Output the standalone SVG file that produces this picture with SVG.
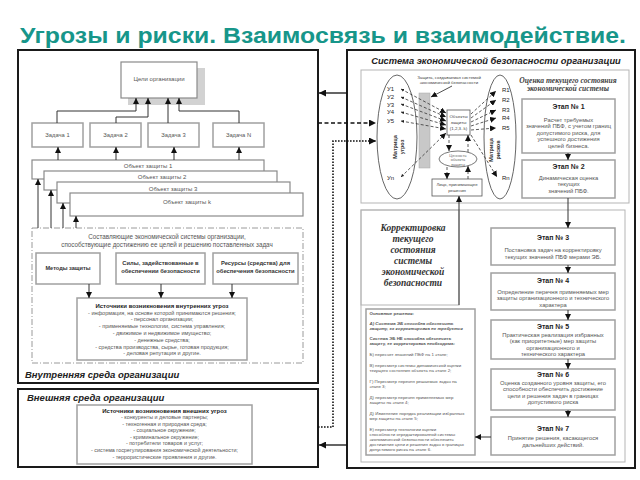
<svg xmlns="http://www.w3.org/2000/svg" width="640" height="480" viewBox="0 0 640 480">
<defs>
<marker id="ah" viewBox="0 0 10 10" refX="10" refY="5" markerWidth="6" markerHeight="6" markerUnits="userSpaceOnUse" orient="auto"><path d="M0,0 L10,5 L0,10 z" fill="#111"/></marker>
<marker id="ahb" viewBox="0 0 10 10" refX="10" refY="5" markerWidth="8" markerHeight="7" markerUnits="userSpaceOnUse" orient="auto"><path d="M0,0 L10,5 L0,10 z" fill="#111"/></marker>
<marker id="ahs" viewBox="0 0 10 10" refX="0" refY="5" markerWidth="3" markerHeight="3" markerUnits="userSpaceOnUse" orient="auto"><path d="M10,0 L0,5 L10,10 z" fill="#222"/></marker>
</defs>
<style>
.sf{font-family:"Liberation Sans",Arial,sans-serif}
.sr{font-family:"Liberation Serif","Times New Roman",serif}
.g{fill:#555}
.d{fill:#222}
.c{text-anchor:middle}
.b{font-weight:bold}
.i{font-style:italic}
.frame{fill:none;stroke:#1a1a1a;stroke-width:2}
.box{fill:#fff;stroke:#8a8a8a;stroke-width:1.2}
.gbox{fill:#fff;stroke:#a0a0a0;stroke-width:1.5}
.pan{fill:none;stroke:#b5b5b5;stroke-width:1}
.ln{fill:none;stroke:#333;stroke-width:1}
.dl{fill:none;stroke:#333;stroke-width:0.8;stroke-dasharray:3 2}
</style>
<rect width="640" height="480" fill="#fff"/>
<text class="sf b" x="20" y="43" font-size="22" fill="#17968a" textLength="606" lengthAdjust="spacingAndGlyphs">Угрозы и риски. Взаимосвязь и взаимодействие.</text>

<!-- LEFT: internal environment -->
<g id="internal-env">
<rect class="frame" x="18" y="50" width="300" height="333"/>
<text class="sf b i d" x="25" y="378" font-size="9.5">Внутренняя среда организации</text>
</g>
<g id="goals">
<rect x="128" y="68" width="77" height="37" fill="#d2d2d2"/>
<rect class="box" x="121" y="62" width="76" height="36"/>
<text class="sf g c" x="159" y="81" font-size="6">Цели организации</text>
</g>
<g id="task1"><rect class="gbox" x="32" y="123" width="51" height="24"/><text class="sf g c" x="57.5" y="137" font-size="5.8">Задача 1</text></g>
<g id="task2"><rect class="gbox" x="90" y="123" width="51" height="24"/><text class="sf g c" x="115.5" y="137" font-size="5.8">Задача 2</text></g>
<g id="task3"><rect class="gbox" x="148" y="123" width="51" height="24"/><text class="sf g c" x="173.5" y="137" font-size="5.8">Задача 3</text></g>
<g id="taskN"><rect class="gbox" x="213" y="123" width="51" height="24"/><text class="sf g c" x="238.5" y="137" font-size="5.8">Задача N</text></g>
<g id="obj1"><rect class="box" x="32" y="160" width="232" height="19"/><text class="sf g c" x="148" y="168" font-size="6">Объект защиты 1</text></g>
<g id="obj2"><rect class="box" x="44" y="171" width="233" height="19"/><text class="sf g c" x="162" y="179" font-size="6">Объект защиты 2</text></g>
<g id="obj3"><rect class="box" x="57" y="182" width="233" height="21"/><text class="sf g c" x="173" y="191" font-size="6">Объект защиты 3</text></g>
<g id="objk"><rect class="box" x="70" y="193" width="233" height="23"/><text class="sf g c" x="187" y="204" font-size="6">Объект защиты k</text></g>
<g id="components">
<rect x="32" y="228" width="271" height="135" fill="none" stroke="#9a9a9a" stroke-width="1" stroke-dasharray="6 2 1 2"/>
<text class="sf g c" x="167" y="239" font-size="6.3">Составляющие экономической системы организации,</text>
<text class="sf g c" x="167" y="247" font-size="6.3">способствующие достижению ее целей и решению поставленных задач</text>
</g>
<g id="methods"><rect class="gbox" x="36" y="253" width="64" height="31"/><text class="sf b c" fill="#333" x="68" y="270" font-size="5.6">Методы защиты</text></g>
<g id="forces"><rect class="gbox" x="116" y="253" width="89" height="31"/><text class="sf b c" fill="#333" x="160.5" y="265" font-size="5.8">Силы, задействованные в</text><text class="sf b c" fill="#333" x="160.5" y="272.5" font-size="5.8">обеспечении безопасности</text></g>
<g id="resources"><rect class="gbox" x="213" y="253" width="85" height="31"/><text class="sf b c" fill="#333" x="255.5" y="265" font-size="5.8">Ресурсы (средства) для</text><text class="sf b c" fill="#333" x="255.5" y="272.5" font-size="5.8">обеспечения безопасности</text></g>
<g id="internal-threats">
<rect class="gbox" x="77" y="298" width="170" height="62"/>
<text class="sf b c d" x="162" y="307.5" font-size="6">Источники возникновения внутренних угроз</text>
<g class="sf g c" font-size="5.5">
<text x="162" y="314.5">- информация, на основе  которой принимаются решения;</text>
<text x="162" y="321.3">- персонал организации;</text>
<text x="162" y="328.1">- применяемые технологии, система управления;</text>
<text x="162" y="334.9">- движимое и недвижимое имущество;</text>
<text x="162" y="341.7">- денежные средства;</text>
<text x="162" y="348.5">- средства производства, сырье, готовая продукция;</text>
<text x="162" y="355.3">- деловая репутация и другие.</text>
</g>
</g>

<!-- LEFT: external environment -->
<g id="external-env">
<rect class="frame" x="18" y="389" width="300" height="78"/>
<text class="sf b i d" x="27" y="401" font-size="9.5">Внешняя среда организации</text>
</g>
<g id="external-threats">
<rect class="gbox" x="77" y="405" width="175" height="59"/>
<text class="sf b c d" x="164.5" y="412.5" font-size="6">Источники возникновения  внешних угроз</text>
<g class="sf g c" font-size="5.4">
<text x="164.5" y="419">- конкуренты и деловые партнеры;</text>
<text x="164.5" y="425.6">- техногенная и природная среда;</text>
<text x="164.5" y="432.2">- социальное окружение;</text>
<text x="164.5" y="438.8">- криминальное окружение;</text>
<text x="164.5" y="445.4">- потребители товаров и услуг;</text>
<text x="164.5" y="452">- система госрегулирования экономической деятельности;</text>
<text x="164.5" y="458.6">- террористические проявления и другие.</text>
</g>
</g>

<!-- RIGHT: economic security system -->
<g id="ses">
<rect class="frame" x="347" y="50" width="288" height="418"/>
<text class="sf b i d c" x="496" y="64" font-size="9.3">Система экономической безопасности организации</text>
<rect class="pan" x="361" y="70" width="268" height="133"/>
<rect class="pan" x="361" y="210" width="264" height="252"/>
</g>
<g id="threat-matrix">
<ellipse cx="397" cy="137" rx="20" ry="62" fill="none" stroke="#555" stroke-width="0.9"/>
<g class="sf d" font-size="6">
<text x="387" y="91">У1</text><text x="387" y="99">У2</text><text x="387" y="106.5">У3</text><text x="387" y="114">У4</text><text x="387" y="123">У5</text><text x="387" y="180">Уn</text>
</g>
<text class="sf b c" fill="#333" font-size="5.5" transform="translate(397,147) rotate(-90)">Матрица</text>
<text class="sf b c" fill="#333" font-size="5.5" transform="translate(404,147) rotate(-90)">угроз</text>
</g>
<g id="shield">
<rect x="419" y="93" width="11" height="75" fill="#c8c8c8" stroke="#a8a8a8" stroke-width="0.5"/>
<text class="sf c" fill="#444" x="449" y="78.5" font-size="4.3">Защита, создаваемая системой</text>
<text class="sf c" fill="#444" x="449" y="83.5" font-size="4.3">экономической безопасности</text>
</g>
<g id="objects">
<rect x="447" y="110" width="23" height="25" fill="#fff" stroke="#555" stroke-width="0.8"/>
<g class="sf c" fill="#444" font-size="4.4"><text x="458.5" y="118">Объекты</text><text x="458.5" y="124">защиты</text><text x="458.5" y="130">(1,2,3..k)</text></g>
</g>
<g id="value">
<ellipse cx="458" cy="159" rx="19" ry="8" fill="#fff" stroke="#555" stroke-width="0.8"/>
<g class="sf c" fill="#666" font-size="3.9"><text x="458" y="156.5">Ценность</text><text x="458" y="161">объекта</text><text x="458" y="165.5">защиты</text></g>
</g>
<g id="decision-maker">
<rect x="432" y="179" width="50" height="17" fill="#fff" stroke="#555" stroke-width="0.8"/>
<g class="sf c" fill="#444" font-size="4.3"><text x="457" y="186">Лицо, принимающее</text><text x="457" y="192">решения</text></g>
</g>
<g id="risk-matrix">
<ellipse cx="500" cy="137" rx="16" ry="62" fill="none" stroke="#555" stroke-width="0.9"/>
<g class="sf d" font-size="6">
<text x="502" y="92">R1</text><text x="502" y="102">R2</text><text x="502" y="112">R3</text><text x="502" y="120">R4</text><text x="502" y="130">R5</text><text x="502" y="180">Rn</text>
</g>
<text class="sf b c" fill="#333" font-size="5.5" transform="translate(493,150) rotate(-90)">Матрица</text>
<text class="sf b c" fill="#333" font-size="5.5" transform="translate(500,150) rotate(-90)">рисков</text>
</g>
<g id="assessment-head">
<text class="sr b i c" fill="#444" x="568" y="83" font-size="7.6">Оценка текущего состояния</text>
<text class="sr b i c" fill="#444" x="568" y="91" font-size="7.6">экономической системы</text>
</g>
<g id="stage1">
<rect class="gbox" x="522" y="99" width="93" height="54"/>
<text class="sf b c d" x="568.5" y="109" font-size="7">Этап № 1</text>
<g class="sf g c" font-size="5.8"><text x="568.5" y="121.5">Расчет требуемых</text><text x="568.5" y="128">значений ПБФ, с учетом границ</text><text x="568.5" y="134.5">допустимого риска, для</text><text x="568.5" y="141">успешного достижения</text><text x="568.5" y="147.5">целей бизнеса.</text></g>
</g>
<g id="stage2">
<rect class="gbox" x="522" y="160" width="93" height="38"/>
<text class="sf b c d" x="568.5" y="169" font-size="7">Этап № 2</text>
<g class="sf g c" font-size="5.8"><text x="568.5" y="179.5">Динамическая оценка</text><text x="568.5" y="186">текущих</text><text x="568.5" y="192.5">значений ПБФ.</text></g>
</g>
<g id="correction">
<rect class="pan" x="361" y="210" width="98" height="95"/>
<g class="sr b i c" fill="#333" font-size="9.5"><text x="413" y="231">Корректировка</text><text x="413" y="242">текущего</text><text x="413" y="253">состояния</text><text x="413" y="264">системы</text><text x="413" y="275">экономической</text><text x="413" y="286">безопасности</text></g>
</g>
<g id="decisions">
<rect class="gbox" x="366" y="309" width="109" height="146" stroke-width="1"/>
<g class="sf" fill="#555" font-size="4.4">
<text x="369.5" y="315" class="b">Основные решения:</text>
<text x="369.5" y="325" class="b i">А) Система ЭБ способна обеспечить</text>
<text x="369.5" y="330" class="b i">защиту, ее корректировка не требуется</text>
<text x="369.5" y="340" class="b">Система ЭБ НЕ способна обеспечить</text>
<text x="369.5" y="345" class="b">защиту, ее корректировка необходима:</text>
<text x="369.5" y="356">Б) пересчет значений ПБФ на 1 этапе;</text>
<text x="369.5" y="367">В) пересмотр системы динамической оценки</text>
<text x="369.5" y="372">текущего состояния  объекта на этапе 2;</text>
<text x="369.5" y="383">Г) Пересмотр перечня решаемых задач на</text>
<text x="369.5" y="388">этапе 3;</text>
<text x="369.5" y="399">Д) пересмотр перечня применяемых мер</text>
<text x="369.5" y="404">защиты на этапе 4;</text>
<text x="369.5" y="415">Д) Изменение порядка реализации избранных</text>
<text x="369.5" y="420">мер защиты на этапе 5;</text>
<text x="369.5" y="431">Е) пересмотр технологии оценки</text>
<text x="369.5" y="436">способности отредактированной системы</text>
<text x="369.5" y="441">экономической безопасности обеспечить</text>
<text x="369.5" y="446">достижение цели и решения задач в границах</text>
<text x="369.5" y="451">допустимого риска на этапе 6.</text>
</g>
</g>
<g id="stage3">
<rect class="gbox" x="491" y="228" width="124" height="37"/>
<text class="sf b c d" x="553" y="240" font-size="7">Этап № 3</text>
<g class="sf g c" font-size="5.8"><text x="553" y="252">Постановка задач на корректировку</text><text x="553" y="259">текущих значений ПБФ мерами ЭБ.</text></g>
</g>
<g id="stage4">
<rect class="gbox" x="491" y="273" width="124" height="37"/>
<text class="sf b c d" x="553" y="282.5" font-size="7">Этап № 4</text>
<g class="sf g c" font-size="5.8"><text x="553" y="293.5">Определение перечня применяемых мер</text><text x="553" y="300">защиты организационного и технического</text><text x="553" y="306.5">характера</text></g>
</g>
<g id="stage5">
<rect class="gbox" x="491" y="320" width="124" height="39"/>
<text class="sf b c d" x="553" y="328.5" font-size="7">Этап № 5</text>
<g class="sf g c" font-size="5.8"><text x="553" y="336.5">Практическая реализация избранных</text><text x="553" y="343">(как приоритетные) мер защиты</text><text x="553" y="349.5">организационного и</text><text x="553" y="356">технического характера</text></g>
</g>
<g id="stage6">
<rect class="gbox" x="491" y="369" width="124" height="41"/>
<text class="sf b c d" x="553" y="376.5" font-size="7">Этап № 6</text>
<g class="sf g c" font-size="5.8"><text x="553" y="384.5">Оценка созданного уровня защиты, его</text><text x="553" y="391">способности обеспечить достижение</text><text x="553" y="397.5">цели и решения задач в границах</text><text x="553" y="404">допустимого риска</text></g>
</g>
<g id="stage7">
<rect class="gbox" x="491" y="417" width="124" height="38"/>
<text class="sf b c d" x="553" y="431" font-size="7">Этап № 7</text>
<g class="sf g c" font-size="5.8"><text x="553" y="440">Принятие решения, касающегося</text><text x="553" y="447">дальнейших действий.</text></g>
</g>

<g id="connectors">
<!-- tasks to goals -->
<path class="ln" d="M57,123 V111 H136 V98" marker-end="url(#ah)"/>
<path class="ln" d="M116,123 V117 H148 V98" marker-end="url(#ah)"/>
<path class="ln" d="M168,123 V98" marker-end="url(#ah)"/>
<path class="ln" d="M239,123 V111 H179 V98" marker-end="url(#ah)"/>
<!-- objects to tasks -->
<path class="ln" d="M58,160 V147" marker-end="url(#ah)"/>
<path class="ln" d="M116,160 V147" marker-end="url(#ah)"/>
<path class="ln" d="M174,160 V147" marker-end="url(#ah)"/>
<path class="ln" d="M239,160 V147" marker-end="url(#ah)"/>
<!-- components to objects -->
<path class="ln" d="M38,228 V179" marker-end="url(#ah)"/>
<path class="ln" d="M51,228 V190" marker-end="url(#ah)"/>
<path class="ln" d="M63,228 V203" marker-end="url(#ah)"/>
<path class="ln" d="M76,228 V216" marker-end="url(#ah)"/>
<!-- boxes to internal threats -->
<path class="ln" d="M89,284 V298" marker-end="url(#ah)"/>
<path class="ln" d="M161,284 V298" marker-end="url(#ah)"/>
<path class="ln" d="M232,284 V298" marker-end="url(#ah)"/>
<!-- between frames -->
<path d="M347,93 H319" fill="none" stroke="#111" stroke-width="1.3" marker-end="url(#ahb)"/>
<path d="M347,445 H319" fill="none" stroke="#111" stroke-width="1.3" marker-end="url(#ahb)"/>
<path d="M318,123 H376" fill="none" stroke="#111" stroke-width="1.3" stroke-dasharray="4 2.5" marker-end="url(#ahb)"/>
<path d="M318,427 H333 V141 H376" fill="none" stroke="#111" stroke-width="1.6" stroke-dasharray="1.6 1.4" marker-end="url(#ahb)"/>
<!-- threats to objects -->
<path class="dl" d="M401,89 L446,113" marker-start="url(#ahs)" marker-end="url(#ah)"/>
<path class="dl" d="M401,97 L446,117" marker-start="url(#ahs)" marker-end="url(#ah)"/>
<path class="dl" d="M401,104 L446,121" marker-start="url(#ahs)" marker-end="url(#ah)"/>
<path class="dl" d="M401,112 L446,125" marker-start="url(#ahs)" marker-end="url(#ah)"/>
<path class="dl" d="M401,121 L446,129" marker-start="url(#ahs)" marker-end="url(#ah)"/>
<path class="dl" d="M401,177 L446,133" marker-start="url(#ahs)" marker-end="url(#ah)"/>
<!-- objects to risks -->
<path class="dl" d="M471,114 L496,91" marker-end="url(#ah)"/>
<path class="dl" d="M471,118 L496,100" marker-end="url(#ah)"/>
<path class="dl" d="M471,122 L496,110" marker-end="url(#ah)"/>
<path class="dl" d="M471,126 L496,118" marker-end="url(#ah)"/>
<path class="dl" d="M471,130 L496,128" marker-end="url(#ah)"/>
<path class="dl" d="M471,135 L497,177" marker-end="url(#ah)"/>
<!-- shield label -->
<path d="M452,86 L431,97" fill="none" stroke="#222" stroke-width="0.8" marker-end="url(#ah)"/>
<!-- objects / value / decision maker -->
<path class="dl" d="M449,135 V151" marker-end="url(#ah)"/>
<path class="dl" d="M468,152 V135" marker-end="url(#ah)"/>
<path class="dl" d="M447,167 V179" marker-end="url(#ah)"/>
<path class="dl" d="M468,179 V166" marker-end="url(#ah)"/>
<path class="ln" d="M459,305 V196" marker-end="url(#ah)"/>
<!-- stages -->
<path class="ln" d="M568,153 V160" marker-end="url(#ah)"/>
<path class="ln" d="M568,198 V228" marker-end="url(#ah)"/>
<path class="ln" d="M568,265 V273" marker-end="url(#ah)"/>
<path class="ln" d="M568,310 V320" marker-end="url(#ah)"/>
<path class="ln" d="M568,359 V369" marker-end="url(#ah)"/>
<path class="ln" d="M568,410 V417" marker-end="url(#ah)"/>
<path class="ln" d="M491,437 H475" marker-end="url(#ah)"/>
</g>
</svg>
